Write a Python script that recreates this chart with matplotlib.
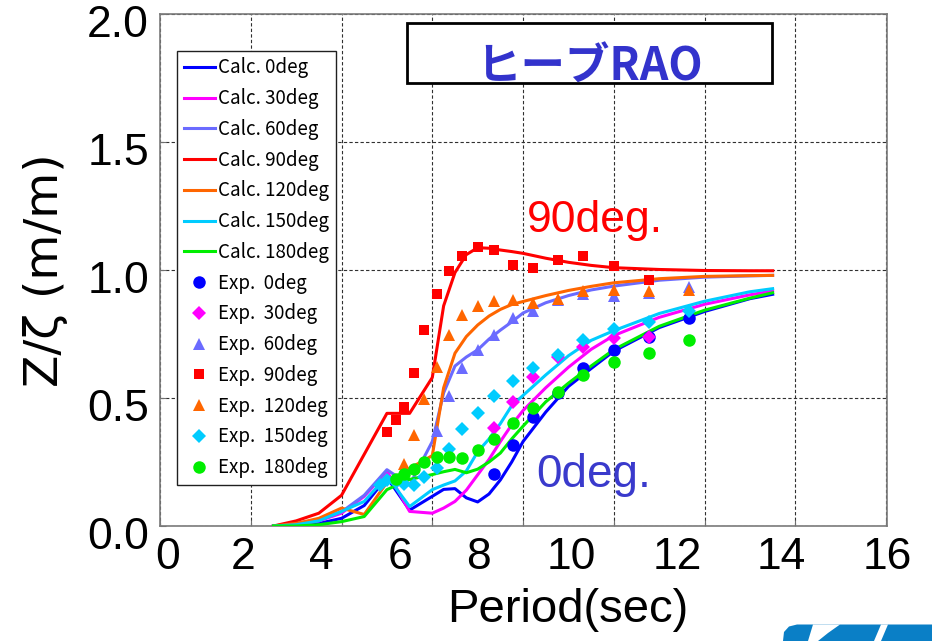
import numpy as np
import matplotlib
matplotlib.use("Agg")
import matplotlib.pyplot as plt
from matplotlib.transforms import ScaledTranslation
from matplotlib.patches import Rectangle, Polygon

plt.rcParams['font.family'] = ['Liberation Sans', 'DejaVu Sans']

# calculated heave RAO, period grid (sec)
calc_T = [2.5, 3.0, 3.5, 4.0, 4.5, 5.0, 5.5, 6.0, 6.25, 6.5, 6.75, 7.0,
          7.25, 7.5, 7.75, 8.0, 8.5, 9.0, 9.5, 10.0, 11.0, 12.0, 13.0, 13.5]
calc_0 = [0.0, 0.003, 0.01, 0.03, 0.08, 0.19, 0.062, 0.116, 0.143, 0.146, 0.11, 0.094,
          0.125, 0.18, 0.25, 0.33, 0.445, 0.545, 0.615, 0.683, 0.775, 0.838, 0.888, 0.905]
calc_30 = [0.0, 0.005, 0.02, 0.05, 0.116, 0.214, 0.057, 0.05, 0.07, 0.096, 0.14, 0.2,
           0.26, 0.33, 0.395, 0.451, 0.54, 0.62, 0.69, 0.744, 0.815, 0.866, 0.903, 0.918]
calc_60 = [0.0, 0.01, 0.025, 0.055, 0.12, 0.22, 0.16, 0.33, 0.52, 0.625, 0.66, 0.688,
           0.73, 0.765, 0.797, 0.832, 0.872, 0.9, 0.922, 0.937, 0.96, 0.972, 0.977, 0.979]
calc_90 = [0.0, 0.02, 0.05, 0.12, 0.28, 0.44, 0.44, 0.58, 0.86, 0.99, 1.06, 1.087,
           1.085, 1.078, 1.072, 1.065, 1.046, 1.03, 1.018, 1.009, 1.002, 0.998, 0.997, 0.997]
calc_120 = [0.0, 0.01, 0.03, 0.07, 0.045, 0.17, 0.225, 0.275, 0.54, 0.675, 0.74, 0.785,
            0.82, 0.846, 0.865, 0.877, 0.9, 0.92, 0.936, 0.95, 0.966, 0.975, 0.978, 0.979]
calc_150 = [0.0, 0.005, 0.02, 0.057, 0.096, 0.195, 0.076, 0.142, 0.16, 0.176, 0.215, 0.29,
            0.34, 0.4, 0.47, 0.51, 0.59, 0.665, 0.725, 0.763, 0.83, 0.878, 0.915, 0.927]
calc_180 = [0.0, 0.0, 0.005, 0.017, 0.037, 0.142, 0.182, 0.201, 0.212, 0.221, 0.208, 0.222,
            0.25, 0.285, 0.34, 0.39, 0.485, 0.558, 0.625, 0.689, 0.78, 0.843, 0.89, 0.911]

# tank test results
nan = np.nan
exp_T = [4.84, 5.0, 5.19, 5.38, 5.6, 5.82, 6.1, 6.36, 6.66, 7.0, 7.37, 7.78,
         8.22, 8.76, 9.33, 10.0, 10.77, 11.66]
exp_0 = [nan, nan, nan, nan, nan, nan, nan, nan, nan, nan, 0.204, 0.317,
         0.426, 0.52, 0.617, 0.689, 0.739, 0.811]
exp_30 = [nan, nan, nan, nan, nan, nan, nan, nan, nan, nan, 0.381, 0.483,
          0.582, 0.659, 0.70, 0.735, 0.739, nan]
exp_60 = [nan, nan, nan, nan, nan, nan, 0.372, 0.507, 0.616, 0.688, 0.745, 0.812,
          0.838, 0.882, 0.905, 0.897, 0.91, 0.935]
exp_90 = [nan, 0.369, 0.414, 0.466, 0.596, 0.766, 0.905, 0.997, 1.054, 1.09, 1.077, 1.02,
          1.008, 1.04, 1.053, 1.014, 0.961, nan]
exp_120 = [nan, nan, nan, 0.243, 0.355, 0.495, 0.622, 0.746, 0.826, 0.86, 0.877, 0.881,
           0.872, 0.888, 0.918, 0.923, 0.917, 0.92]
exp_150 = [0.16, 0.18, 0.17, 0.165, 0.16, 0.193, 0.225, 0.3, 0.377, 0.443, 0.508, 0.566,
           0.617, 0.666, 0.725, 0.768, 0.796, 0.839]
exp_180 = [nan, nan, 0.185, 0.205, 0.222, 0.25, 0.27, 0.27, 0.266, 0.298, 0.341, 0.401,
           0.46, 0.522, 0.591, 0.64, 0.674, 0.728]

headings = ['0', '30', '60', '90', '120', '150', '180']
colors = ['#0000FF', '#FF00FF', '#6B6BFF', '#FF0000', '#FF6600', '#00CCFF', '#00EE00']
markers = ['o', 'D', '^', 's', '^', 'D', 'o']
msizes = [9, 7.5, 9, 6.5, 9, 7.5, 9]

calc_all = [calc_0, calc_30, calc_60, calc_90, calc_120, calc_150, calc_180]
exp_all = [exp_0, exp_30, exp_60, exp_90, exp_120, exp_150, exp_180]

xtick_vals = ['0', '2', '4', '6', '8', '10', '12', '14', '16']
xtick_pos = [0.17, 1.83, 3.56, 5.29, 7.01, 9.07, 11.4, 13.69, 16.02]

fig = plt.figure(figsize=(9.32, 6.41), dpi=100)
ax = fig.add_axes([0.1717, 0.1794, 0.78, 0.7988])

handles = []
for h, c, y in zip(headings, colors, calc_all):
    ln, = ax.plot(calc_T, y, color=c, lw=2.2, label=f'Calc. {h}deg', zorder=3)
    handles.append(ln)
for h, c, m, ms, y in zip(headings, colors, markers, msizes, exp_all):
    pt, = ax.plot(exp_T, y, ls='none', marker=m, ms=ms, mfc=c, mec=c, mew=0,
                  label=f'Exp.  {h}deg', zorder=4)
    handles.append(pt)

ax.set_xlim(0, 16)
ax.set_ylim(0, 2.0)

# grid at the major ticks, labels carried on minor ticks
ax.set_xticks(np.arange(0, 17, 2))
ax.set_xticks(xtick_pos, xtick_vals, minor=True)
ax.set_yticks([0, 0.5, 1.0, 1.5, 2.0], ['0.0', '0.5', '1.0', '1.5', '2.0'])
ax.tick_params(axis='x', which='major', labelbottom=False, direction='in',
               length=4, color='#707070')
ax.tick_params(axis='x', which='minor', length=0, pad=8, labelsize=32)
ax.tick_params(axis='y', which='major', direction='in', length=4, color='#707070',
               pad=8, labelsize=32)
ax.grid(True, which='major', color='#303030', lw=0.8, ls=(0, (3, 2)))

offset = ScaledTranslation(0, -0.07, fig.dpi_scale_trans)
for lab in ax.get_yticklabels():
    lab.set_transform(lab.get_transform() + offset)

for sp in ax.spines.values():
    sp.set_color('#7a7a7a')
    sp.set_linewidth(1.2)

ax.set_xlabel('Period(sec)', fontsize=34)
ax.xaxis.set_label_coords(0.561, -0.121)
ax.set_ylabel('Z/ζ (m/m)', fontsize=34, va='center', ha='center',
              family=['DejaVu Sans'])
ax.yaxis.set_label_coords(-0.158, 0.5)

leg = ax.legend(handles=handles, loc='upper left', bbox_to_anchor=(0.0234, 0.928),
                borderaxespad=0, fancybox=False, framealpha=1, edgecolor='#202020',
                prop={'family': ['Noto Sans CJK JP'], 'size': 13.5},
                handlelength=1.65, handletextpad=0.2, labelspacing=0.52,
                borderpad=0.35)
leg.get_frame().set_linewidth(1.0)
leg.set_zorder(6)

# title box
ax.add_patch(Rectangle((0.3398, 0.865), 0.502, 0.117, transform=ax.transAxes,
                       fc='white', ec='black', lw=2.0, zorder=5))
ax.text(0.5915, 0.869, 'ヒーブRAO', transform=ax.transAxes, ha='center', va='baseline',
        fontsize=32, fontweight='bold', color='#3333CC',
        family=['Noto Sans CJK JP'], zorder=6)

ax.text(8.08, 1.148, '90deg.', color='#FF0000', fontsize=32, va='baseline', zorder=6)
ax.text(8.3, 0.152, '0deg.', color='#3A3ACC', fontsize=33, va='baseline', zorder=6)

# company logo fragment, bottom right corner
W, H = 932.0, 641.0
def fp(pts):
    return [(x / W, 1 - y / H) for x, y in pts]
fig.add_artist(Polygon(fp([(783, 641), (784, 632), (789, 626.5), (797, 624.5),
                           (932, 624.5), (932, 641)]),
                       closed=True, fc='#0A7FC6', ec='none', transform=fig.transFigure))
fig.add_artist(Polygon(fp([(813, 624.5), (840, 624.5), (828, 633), (818, 641), (808, 641)]),
                       closed=True, fc='white', ec='none', transform=fig.transFigure))
fig.add_artist(Polygon(fp([(881, 624.5), (888, 624.5), (881, 641), (874, 641)]),
                       closed=True, fc='white', ec='none', transform=fig.transFigure))

fig.savefig('out.png', dpi=100)
